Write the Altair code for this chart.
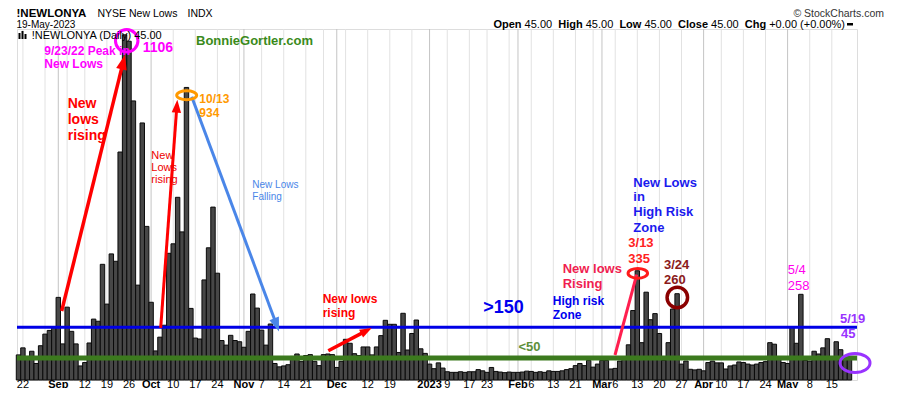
import math
import altair as alt
import pandas as pd

# ---------------- data ----------------
START, END = "2022-08-19", "2023-05-19"
HOLIDAYS = ["2022-09-05", "2022-11-24", "2022-12-26", "2023-01-02",
            "2023-01-16", "2023-02-20", "2023-04-07"]

new_lows = [
    60, 83, 55, 72, 32, 90, 128, 140, 152,          # Aug 19-31
    248, 96, 216, 137, 96, 24,                      # Sep 1-9
    35, 99, 177, 170, 356,                          # Sep 12-16
    226, 390, 366, 723, 1106,                       # Sep 19-23
    1085, 890, 288, 818, 480,                       # Sep 26-30
    232, 73, 118, 157, 392,                         # Oct 3-7
    423, 575, 462, 934, 212,                        # Oct 10-14
    115, 112, 305, 410, 543,                        # Oct 17-21
    327, 107, 92, 124, 107, 103,                    # Oct 24-31
    85, 137, 259, 213,                              # Nov 1-4
    141, 92, 161, 32, 21,                           # Nov 7-11
    24, 28, 55, 63, 38,                             # Nov 14-18
    58, 61, 39, 25,                                 # Nov 21-25
    61, 63, 61, 19, 39,                             # Nov 28-Dec 2
    111, 98, 64, 58, 86,                            # Dec 5-9
    86, 60, 86, 123, 173,                           # Dec 12-16
    160, 160, 68, 196, 76,                          # Dec 19-23
    130, 174, 80, 65,                               # Dec 27-30
    30, 15, 34, 17,                                 # Jan 3-6
    5, 3, 3, 5, 3,                                  # Jan 9-13
    5, 5, 12, 8,                                    # Jan 17-20
    3, 19, 6, 4, 2,                                 # Jan 23-27
    4, 3, 3, 4, 7,                                  # Jan 30-Feb 3
    6, 3, 5, 3, 8,                                  # Feb 6-10
    6, 6, 8, 12, 15,                                # Feb 13-17
    25, 32, 25, 42,                                 # Feb 21-24
    20, 30, 42, 42, 14,                             # Feb 27-Mar 3
    16, 40, 45, 93, 205,                            # Mar 6-10
    335, 100, 265, 175, 195,                        # Mar 13-17
    130, 42, 100, 210, 260,                         # Mar 20-24
    30, 40, 13, 11, 13,                             # Mar 27-31
    8, 35, 40, 34,                                  # Apr 3-6
    34, 14, 24, 27, 37,                             # Apr 10-14
    35, 30, 27, 30, 35,                             # Apr 17-21
    38, 100, 95, 48, 35,                            # Apr 24-28
    32, 150, 98, 258, 42,                           # May 1-5
    40, 72, 63, 83, 113,                            # May 8-12
    50, 103, 77, 45, 45,                            # May 15-19
]

tick_dates = ["2022-08-22", "2022-09-01", "2022-09-12", "2022-09-19", "2022-09-26",
              "2022-10-03", "2022-10-10", "2022-10-17", "2022-10-24", "2022-11-01",
              "2022-11-07", "2022-11-14", "2022-11-21", "2022-12-01", "2022-12-12",
              "2022-12-19", "2023-01-03", "2023-01-09", "2023-01-17", "2023-01-23",
              "2023-02-01", "2023-02-06", "2023-02-13", "2023-02-21", "2023-03-01",
              "2023-03-06", "2023-03-13", "2023-03-20", "2023-03-27", "2023-04-03",
              "2023-04-10", "2023-04-17", "2023-04-24", "2023-05-01", "2023-05-08",
              "2023-05-15"]
tick_labels = ["22", "Sep", "12", "19", "26", "Oct", "10", "17", "24", "Nov", "7", "14",
               "21", "Dec", "12", "19", "2023", "9", "17", "23", "Feb", "6", "13", "21",
               "Mar", "6", "13", "20", "27", "Apr", "10", "17", "24", "May", "8", "15"]
y_ticks = list(range(0, 1101, 50))
high_risk_level = 150
low_level = 50

# ---------------- geometry ----------------
W, H = 840, 351
X0, X1 = -0.34, 189.7
Y0, Y1 = -22.0, 1125.0
FONT = "Liberation Sans"

dates = pd.bdate_range(START, END)
dates = dates[~dates.isin(pd.to_datetime(HOLIDAYS))]
assert len(dates) == len(new_lows)
pos = {d.strftime("%Y-%m-%d"): i for i, d in enumerate(dates)}

xs = alt.Scale(domain=[X0, X1], nice=False, zero=False)
ys = alt.Scale(domain=[Y0, Y1], nice=False, zero=False)


def to_px(k, v):
    return ((k - X0) / (X1 - X0) * W, (Y1 - v) / (Y1 - Y0) * H)


def to_data(px, py):
    return (X0 + px / W * (X1 - X0), Y1 - py / H * (Y1 - Y0))


bars_df = pd.DataFrame({"k": range(len(dates)), "v": new_lows})
bars_df["lo"] = bars_df.k - 0.5
bars_df["hi"] = bars_df.k + 0.5

grid_rows = []
for i in range(1, len(dates)):
    new_month = dates[i].month != dates[i - 1].month
    new_week = dates[i].weekday() < dates[i - 1].weekday()
    if new_month or new_week:
        grid_rows.append({"k": i, "c": "#c4c4c4" if new_month else "#e2e2e2"})
grid_df = pd.DataFrame(grid_rows)

ticks_df = pd.DataFrame({"k": [pos[d] for d in tick_dates], "label": tick_labels})
ticks_df["bold"] = ticks_df.label.apply(lambda s: not s.isdigit() or len(s) == 4)

X = lambda f: alt.X(f, scale=xs, axis=None)
Y = lambda f: alt.Y(f, scale=ys, axis=None)

vgrid = alt.Chart(grid_df).mark_rule(strokeWidth=1).encode(
    x=X("k:Q"), y=alt.value(0), y2=alt.value(H), color=alt.Color("c:N", scale=None))

yaxis = alt.Axis(orient="right", values=y_ticks, grid=True, gridColor="#e2e2e2",
                 domain=False, ticks=True, tickSize=3, tickColor="#555",
                 labelFont=FONT, labelFontSize=11, labelColor="#111", labelPadding=2,
                 labelOverlap=False, labelFlush=False, title=None)
bars = alt.Chart(bars_df).mark_bar(fill="#474747", stroke="#0a0a0a", strokeWidth=1).encode(
    x=X("lo:Q"), x2="hi:Q",
    y=alt.Y("v:Q", scale=ys, axis=yaxis), y2=alt.datum(Y0))

levels_df = pd.DataFrame({"level": [high_risk_level, low_level],
                          "c": ["#0000e6", "#3c7a1e"], "w": [3, 5]})
hlines = alt.Chart(levels_df).mark_rule().encode(
    y=Y("level:Q"), x=alt.value(0), x2=alt.value(W),
    color=alt.Color("c:N", scale=None), strokeWidth=alt.StrokeWidth("w:Q", scale=None))

xl_b = alt.Chart(ticks_df[ticks_df.bold]).mark_text(
    font=FONT, fontSize=11, fontWeight="bold", baseline="alphabetic", align="center",
    color="#000").encode(x=X("k:Q"), y=alt.value(358.5), text="label:N")
xl_n = alt.Chart(ticks_df[~ticks_df.bold]).mark_text(
    font=FONT, fontSize=11, baseline="alphabetic", align="center",
    color="#000").encode(x=X("k:Q"), y=alt.value(358.5), text="label:N")

# ---------------- arrows ----------------
HEAD = "M0,-1L-0.62,0.72L0.62,0.72Z"
arrows = [  # start (k, v), tip (k, v), colour, width, head length
    (9.77, 203.5, 24.1, 1041.0, "#ff0000", 3.5, 15),
    (32.17, 148.0, 35.93, 894.0, "#ff0000", 3.0, 13),
    (39.19, 903.8, 58.94, 136.5, "#4a86e8", 3.0, 14),
    (70.09, 73.7, 79.91, 147.9, "#ff0000", 3.5, 12),
    (134.95, 59.7, 139.86, 322.1, "#ff1f4f", 3.0, 0),
]
line_rows, head_rows = [], []
for i, (k1, v1, k2, v2, c, w, L) in enumerate(arrows):
    x1, y1 = to_px(k1, v1)
    x2, y2 = to_px(k2, v2)
    n = math.hypot(x2 - x1, y2 - y1)
    ux, uy = (x2 - x1) / n, (y2 - y1) / n
    if L:
        s = L / 1.72
        ck, cv = to_data(x2 - ux * s, y2 - uy * s)
        ang = math.degrees(math.atan2(ux, -uy)) % 360
        head_rows.append({"k": ck, "v": cv, "a": ang, "s": (2 * s) ** 2, "c": c})
        ek, ev = to_data(x2 - ux * L * 0.7, y2 - uy * L * 0.7)
    else:
        ek, ev = k2, v2
    line_rows += [{"id": i, "o": 0, "k": k1, "v": v1, "c": c, "w": w},
                  {"id": i, "o": 1, "k": ek, "v": ev, "c": c, "w": w}]

arrow_lines = alt.Chart(pd.DataFrame(line_rows)).mark_line(strokeCap="butt").encode(
    x=X("k:Q"), y=Y("v:Q"), detail="id:N", order="o:Q",
    color=alt.Color("c:N", scale=None), strokeWidth=alt.StrokeWidth("w:Q", scale=None))
arrow_heads = alt.Chart(pd.DataFrame(head_rows)).mark_point(
    shape=HEAD, filled=True, opacity=1, strokeWidth=0).encode(
    x=X("k:Q"), y=Y("v:Q"), angle=alt.Angle("a:Q", scale=None),
    size=alt.Size("s:Q", scale=None), color=alt.Color("c:N", scale=None))


def ell(r):
    return f"M-1,0A1,{r},0,1,1,1,0A1,{r},0,1,1,-1,0Z"


circ_df = pd.DataFrame([
    {"k": 24.48, "v": 1086.4, "sh": "circle", "d": 22.5, "c": "#ff00ff", "w": 3},
    {"k": 38.05, "v": 908.7, "sh": ell(0.45), "d": 20, "c": "#ff9900", "w": 3},
    {"k": 140.11, "v": 326.7, "sh": ell(0.5), "d": 19.5, "c": "#ff1a1a", "w": 3},
    {"k": 149.05, "v": 247.6, "sh": "circle", "d": 20.5, "c": "#8b0000", "w": 3.5},
    {"k": 189.25, "v": 33.6, "sh": ell(0.63), "d": 30, "c": "#9933ff", "w": 3},
])
circ_df["s"] = circ_df.d ** 2
circles = alt.Chart(circ_df).mark_point(filled=False, opacity=1).encode(
    x=X("k:Q"), y=Y("v:Q"), shape=alt.Shape("sh:N", scale=None),
    size=alt.Size("s:Q", scale=None), color=alt.Color("c:N", scale=None),
    strokeWidth=alt.StrokeWidth("w:Q", scale=None))

# ---------------- annotations ----------------
ann = [  # k, v, text, colour, size, bold
    (5.84, 1053.1, "9/23/22 Peak in", "#ff00ff", 12, True),
    (5.84, 1009.0, "New Lows", "#ff00ff", 12, True),
    (28.1, 1062.0, "1106", "#ff00ff", 14, True),
    (11.13, 879.0, "New", "#ff0000", 14, True),
    (11.13, 827.6, "lows", "#ff0000", 14, True),
    (11.13, 775.3, "rising", "#ff0000", 14, True),
    (40.16, 1087.4, "BonnieGortler.com", "#3a8a1a", 13, True),
    (30.05, 710.0, "New", "#ee0000", 11, False),
    (30.05, 670.8, "Lows", "#ee0000", 11, False),
    (30.05, 630.0, "rising", "#ee0000", 11, False),
    (40.9, 896.3, "10/13", "#ff9900", 12, True),
    (40.9, 850.5, "934", "#ff9900", 12, True),
    (52.9, 615.2, "New Lows", "#4a86e8", 10, False),
    (52.9, 576.0, "Falling", "#4a86e8", 10, False),
    (68.82, 241.7, "New lows", "#ff0000", 12, True),
    (68.82, 196.0, "rising", "#ff0000", 12, True),
    (105.16, 212.3, ">150", "#0000ee", 18, True),
    (120.86, 235.2, "High risk", "#0000ee", 12, True),
    (120.86, 189.4, "Zone", "#0000ee", 12, True),
    (113.1, 86.8, "<50", "#5e8f3a", 13, True),
    (123.12, 339.8, "New lows", "#f01e50", 13, True),
    (123.12, 290.7, "Rising", "#f01e50", 13, True),
    (139.1, 622.7, "New Lows", "#1a1aee", 13, True),
    (139.1, 574.4, "in", "#1a1aee", 13, True),
    (139.1, 526.0, "High Risk", "#1a1aee", 13, True),
    (139.1, 475.7, "Zone", "#1a1aee", 13, True),
    (137.96, 424.7, "3/13", "#ff2222", 13, True),
    (137.96, 373.4, "335", "#ff2222", 13, True),
    (146.04, 353.8, "3/24", "#8b1a1a", 13, True),
    (146.04, 303.8, "260", "#8b1a1a", 13, True),
    (174.03, 337.5, "5/4", "#ff00ee", 13, False),
    (174.03, 285.2, "258", "#ff00ee", 13, False),
    (185.86, 176.3, "5/19", "#9933ff", 13, True),
    (186.1, 127.3, "45", "#9933ff", 13, True),
]
ann_df = pd.DataFrame(ann, columns=["k", "v", "t", "c", "fs", "b"])


def text_layer(df, bold):
    return alt.Chart(df).mark_text(
        font=FONT, fontWeight="bold" if bold else "normal", align="left",
        baseline="middle").encode(
        x=X("k:Q"), y=Y("v:Q"), text="t:N", color=alt.Color("c:N", scale=None),
        size=alt.Size("fs:Q", scale=None))


ann_b = text_layer(ann_df[ann_df.b], True)
ann_n = text_layer(ann_df[~ann_df.b], False)

# ---------------- header (pixel positions relative to plot) ----------------
REG = {" ": 278, ".": 278, "+": 584, "(": 333, ")": 333, "%": 889}
REG.update({d: 556 for d in "0123456789"})
BLD = {"O": 778, "p": 611, "e": 556, "n": 611, "H": 722, "i": 278, "g": 611,
       "h": 611, "L": 611, "o": 611, "w": 778, "C": 722, "l": 278, "s": 556, " ": 278}
HF = 11
segs = [("Open", True), ("45.00", False), ("High", True), ("45.00", False),
        ("Low", True), ("45.00", False), ("Close", True), ("45.00", False),
        ("Chg", True), ("+0.00 (+0.00%)", False)]
xpos, cur = [], 0.0
for j, (t, b) in enumerate(segs):
    xpos.append(cur)
    tbl = BLD if b else REG
    cur += sum(tbl[ch] for ch in t) * HF / 1000
    cur += (278 if b else 556) * HF / 1000
total = cur - 556 * HF / 1000
right_end = 828.0
hdr_rows = []
for (t, b), x in zip(segs, xpos):
    hdr_rows.append({"px": right_end - total + x, "py": -4.5, "t": t, "fs": HF, "b": b,
                     "c": "#000"})
hdr_rows += [
    {"px": -0.5, "py": -15.2, "t": "!NEWLONYA", "fs": 11.5, "b": True, "c": "#000"},
    {"px": 80.5, "py": -15.2, "t": "NYSE New Lows", "fs": 10.5, "b": False, "c": "#000"},
    {"px": 170.5, "py": -15.2, "t": "INDX", "fs": 10.5, "b": False, "c": "#000"},
    {"px": -0.5, "py": -4.4, "t": "19-May-2023", "fs": 10, "b": False, "c": "#000"},
    {"px": 14.7, "py": 6.6, "t": "!NEWLONYA (Daily) 45.00", "fs": 11, "b": False,
     "c": "#000"},
]
hdr_df = pd.DataFrame(hdr_rows)


def hdr_layer(df, bold, align="left"):
    return alt.Chart(df).mark_text(
        font=FONT, fontWeight="bold" if bold else "normal", align=align,
        baseline="middle").encode(
        x=alt.X("px:Q", scale=None, axis=None), y=alt.Y("py:Q", scale=None, axis=None),
        text="t:N", color=alt.Color("c:N", scale=None), size=alt.Size("fs:Q", scale=None))


hdr_b = hdr_layer(hdr_df[hdr_df.b], True)
hdr_n = hdr_layer(hdr_df[~hdr_df.b], False)
copyright_df = pd.DataFrame({"px": [867.0], "py": [-15.2], "t": ["\u00a9 StockCharts.com"],
                             "fs": [10.5], "c": ["#333"]})
hdr_c = hdr_layer(copyright_df, False, align="right")

icon_df = pd.DataFrame({"x1": [1.5, 4.5, 7.5, 830.0], "x2": [3.5, 6.5, 9.5, 836.0],
                        "y1": [4.0, 2.0, 5.0, -6.0], "y2": [10.0, 10.0, 10.0, -3.5]})
icons = alt.Chart(icon_df).mark_rect(color="#000").encode(
    x=alt.X("x1:Q", scale=None, axis=None), x2="x2:Q",
    y=alt.Y("y1:Q", scale=None, axis=None), y2="y2:Q")

chart = alt.layer(
    vgrid, bars, hlines, xl_b, xl_n, arrow_lines, arrow_heads, circles,
    ann_b, ann_n, hdr_b, hdr_n, hdr_c, icons
).properties(
    width=W, height=H,
    padding={"left": 9, "top": 21, "right": 30, "bottom": 8},
    autosize=alt.AutoSizeParams(type="none"),
).configure_view(stroke="#a3a3a3", strokeWidth=1).configure(background="white")

chart.save("out.html", embed_options={"renderer": "svg", "actions": False})
